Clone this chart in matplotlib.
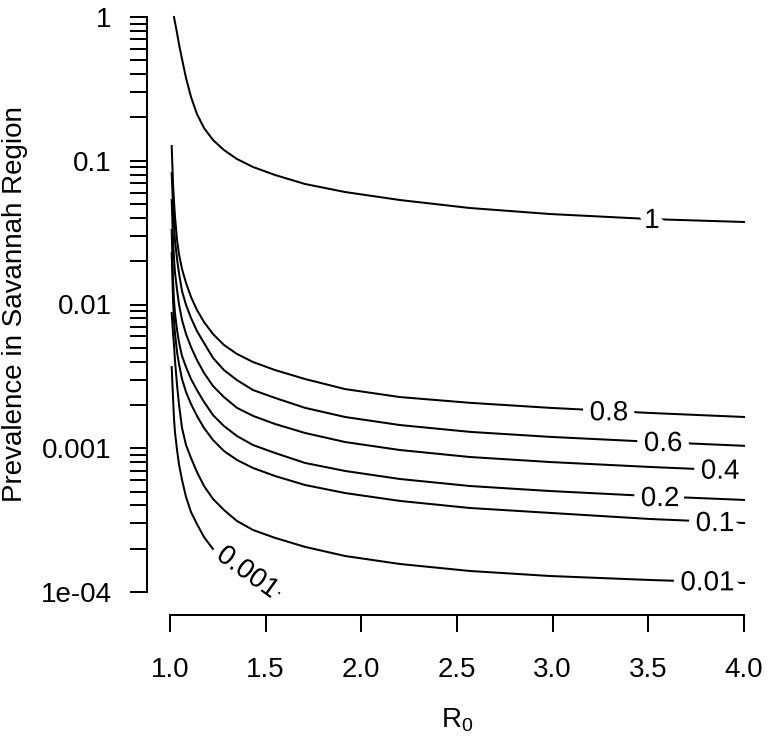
import numpy as np
import matplotlib
matplotlib.use("Agg")
import matplotlib.pyplot as plt
import matplotlib.patheffects as pe

plt.rcParams['font.family'] = ['Liberation Sans', 'DejaVu Sans']
plt.rcParams['mathtext.default'] = 'regular'

r0_grid = [1.009, 1.016, 1.021, 1.026, 1.037, 1.047, 1.063, 1.084, 1.110, 1.141, 1.178, 1.225,
           1.282, 1.350, 1.434, 1.549, 1.706, 1.915, 2.202, 2.568, 2.986, 3.509, 4.0]

# top contour (level 1)
r0_1 = [1.021, 1.026, 1.037, 1.047, 1.063, 1.084, 1.110, 1.141, 1.178, 1.225, 1.282, 1.350,
        1.434, 1.549, 1.706, 1.915, 2.202, 2.568, 2.986, 3.509, 4.0]
p_1 = [1.0, 0.923, 0.774, 0.649, 0.510, 0.376, 0.2777, 0.2114, 0.1690, 0.1394, 0.1188, 0.1028,
       0.0905, 0.0796, 0.0689, 0.0606, 0.0533, 0.0469, 0.0426, 0.0393, 0.0375]

p_08 = [0.1267, 0.0689, 0.0525, 0.0413, 0.0281, 0.02245, 0.01766, 0.01411, 0.01128, 0.00916,
        0.00755, 0.00623, 0.00523, 0.00453, 0.00398, 0.00350, 0.00303, 0.00258, 0.00227,
        0.00207, 0.00191, 0.00176, 0.00165]
p_06 = [0.0822, 0.0492, 0.0363, 0.0281, 0.02073, 0.01656, 0.01241, 0.00992, 0.00806, 0.00654,
        0.00540, 0.00425, 0.00350, 0.00298, 0.00254, 0.00224, 0.00191, 0.00165, 0.00145,
        0.00130, 0.00120, 0.00111, 0.00104]
p_04 = [0.0533, 0.0281, 0.02106, 0.01683, 0.01262, 0.01008, 0.00780, 0.00623, 0.00506, 0.00411,
        0.00334, 0.00271, 0.00227, 0.00191, 0.00168, 0.001475, 0.001277, 0.001105, 0.000972,
        0.000869, 0.000802, 0.000741, 0.000695]
p_02 = [0.0330, 0.0148, 0.01075, 0.00873, 0.00665, 0.00548, 0.00438, 0.00367, 0.00303, 0.00254,
        0.00210, 0.00170, 0.001428, 0.001217, 0.001053, 0.000927, 0.000790, 0.000695, 0.000611,
        0.000546, 0.000504, 0.000465, 0.000437]
p_01 = [0.0228, 0.01075, 0.00780, 0.00633, 0.00467, 0.00386, 0.00303, 0.00246, 0.00203, 0.00168,
        0.001383, 0.001141, 0.000957, 0.000829, 0.000729, 0.000641, 0.000555, 0.000488,
        0.000430, 0.000384, 0.000355, 0.000322, 0.000302]
p_001 = [0.00873, 0.00633, 0.00523, 0.00411, 0.00275, 0.00203, 0.001383, 0.001053, 0.000855,
         0.000684, 0.000546, 0.000444, 0.000372, 0.000312, 0.000270, 0.000238, 0.000206,
         0.000178, 0.0001566, 0.0001400, 0.0001292, 0.0001212, 0.0001155]

# lowest contour stops under its label
r0_0001 = [1.009, 1.016, 1.021, 1.026, 1.037, 1.047, 1.063, 1.084, 1.110, 1.141, 1.178, 1.225,
           1.282, 1.350, 1.434, 1.549, 1.570]
p_0001 = [0.00367, 0.00224, 0.00162, 0.00130, 0.000972, 0.000777, 0.000601, 0.000458, 0.000360,
          0.000297, 0.000241, 0.000199, 0.000170, 0.000147, 0.000123, 0.0001016, 0.0000984]

curves = [(r0_1, p_1), (r0_grid, p_08), (r0_grid, p_06), (r0_grid, p_04),
          (r0_grid, p_02), (r0_grid, p_01), (r0_grid, p_001), (r0_0001, p_0001)]

# contour labels and where they sit
labels = ["1", "0.8", "0.6", "0.4", "0.2", "0.1", "0.01", "0.001"]
label_r0 = [3.519, 3.294, 3.577, 3.875, 3.561, 3.848, 3.809, 1.405]
label_p = [0.0381, 0.00175, 0.00107, 0.000687, 0.000443, 0.000297, 0.0001148, 0.000136]
label_rot = [0, 0, 0, 0, 0, 0, 0, -36]

yticks = [1, 0.1, 0.01, 0.001, 1e-4]
ytick_labels = ["1", "0.1", "0.01", "0.001", "1e-04"]
xticks = [1.0, 1.5, 2.0, 2.5, 3.0, 3.5, 4.0]

W, H = 770, 739
fig = plt.figure(figsize=(W / 100, H / 100), dpi=100)
# plot region in pixels: left 147, right 767, top -6, bottom 615
ax = fig.add_axes([147 / W, (H - 615) / H, 620 / W, 621 / H])

for r, p in curves:
    ax.plot(r, p, color='black', lw=1.45, solid_joinstyle='round')

for s, x, y, rot in zip(labels, label_r0, label_p, label_rot):
    ax.text(x, y, s, ha='center', va='center', rotation=rot, fontsize=20,
            rotation_mode='anchor',
            path_effects=[pe.withStroke(linewidth=11, foreground='white')], zorder=5)

ax.set_yscale('log')
ax.set_xlim(0.88, 4.12)
ax.set_ylim(10 ** -4.16, 10 ** 0.16)

for side in ['top', 'right']:
    ax.spines[side].set_visible(False)
ax.spines['left'].set_bounds(1e-4, 1)
ax.spines['bottom'].set_bounds(1.0, 4.0)
for side in ['left', 'bottom']:
    ax.spines[side].set_linewidth(1.45)

ax.set_yticks(yticks)
ax.set_yticklabels(ytick_labels)
minor = [m * 10.0 ** e for e in range(-4, 0) for m in range(2, 10)]
ax.set_yticks(minor, minor=True)
ax.yaxis.set_minor_formatter(matplotlib.ticker.NullFormatter())
ax.set_xticks(xticks)
ax.set_xticklabels(["%.1f" % v for v in xticks])

ax.tick_params(axis='y', which='both', length=12.5, width=1.45, labelsize=20, pad=13)
ax.tick_params(axis='x', which='both', length=12.5, width=1.45, labelsize=20, pad=18)

fig.text(457 / W, (H - 727) / H, r'$R_0$', ha='center', va='baseline', fontsize=20)
fig.text(15 / W, (H - 304) / H, 'Prevalence in Savannah Region', rotation=90,
         ha='center', va='center', fontsize=20)

fig.savefig('out.png', dpi=100)
